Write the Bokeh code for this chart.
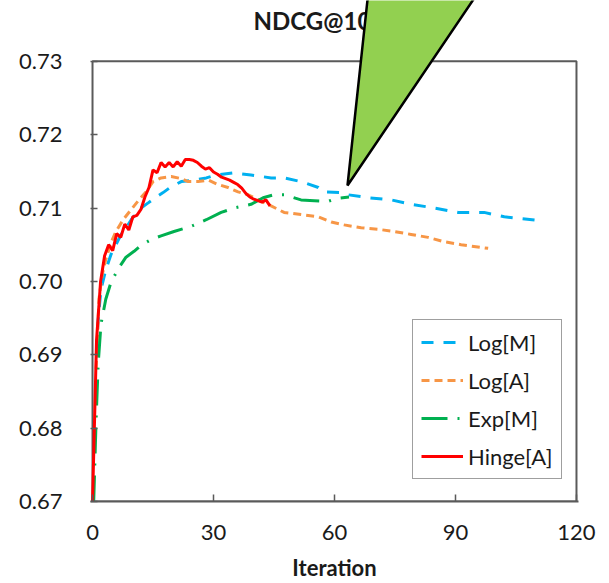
from bokeh.plotting import figure
from bokeh.models import (Range1d, FixedTicker, Legend, LegendItem, Label,
                          PolyAnnotation)
from bokeh.embed import file_html
from bokeh.resources import INLINE

# NDCG@10 per training iteration for the four loss variants
log_m_iter = [1, 1.4, 2.1, 3.3, 4.6, 5.8, 7.1, 8.3, 9.6, 11.5, 13.8, 15.8, 17.5,
              19.5, 22.0, 25.2, 28.2, 30.6, 34.9, 39.3, 44.3, 47.5, 51.7, 56.0,
              57.4, 61.7, 63.4, 68.4, 74.1, 79.1, 84.7, 90.7, 97.1, 102.1, 110.5]
log_m_val = [0.6905, 0.6948, 0.6989, 0.7016, 0.7037, 0.7050, 0.7064, 0.7073,
             0.7084, 0.7098, 0.7107, 0.7115, 0.7121, 0.7129, 0.7136, 0.7138,
             0.7141, 0.7145, 0.7148, 0.7145, 0.7141, 0.7141, 0.7136, 0.7128,
             0.7122, 0.7121, 0.7118, 0.7114, 0.7111, 0.7105, 0.7100, 0.7094,
             0.7094, 0.7088, 0.7083]

log_a_iter = [0.9, 1.6, 2.4, 3.3, 4.6, 5.8, 7.6, 9.6, 11.5, 13.3, 15.0, 17.0,
              19.5, 22.0, 23.7, 26.2, 28.7, 31.1, 33.6, 36.1, 38.6, 41.1, 43.5,
              47.5, 51.7, 56.0, 59.2, 62.4, 66.6, 70.8, 74.8, 79.0, 83.2, 87.2,
              91.4, 98.1]
log_a_val = [0.6881, 0.6976, 0.7009, 0.7030, 0.7053, 0.7068, 0.7084, 0.7098,
             0.7111, 0.7122, 0.7136, 0.7141, 0.7143, 0.7140, 0.7136, 0.7136,
             0.7138, 0.7132, 0.7128, 0.7122, 0.7118, 0.7111, 0.7105, 0.7094,
             0.7091, 0.7088, 0.7081, 0.7077, 0.7073, 0.7071, 0.7068, 0.7064,
             0.7060, 0.7054, 0.7050, 0.7045]

exp_m_iter = [0.3, 0.9, 1.4, 2.1, 3.3, 4.6, 6.6, 8.3, 10.3, 12.0, 14.5, 17.0,
              20.2, 24.4, 28.2, 31.9, 35.1, 39.3, 42.3, 45.0, 47.5, 51.7, 55.0,
              58.4, 60.4, 63.6]
exp_m_val = [0.6700, 0.6813, 0.6887, 0.6942, 0.6976, 0.6999, 0.7019, 0.7033,
             0.7041, 0.7049, 0.7057, 0.7062, 0.7068, 0.7075, 0.7084, 0.7094,
             0.7100, 0.7105, 0.7114, 0.7118, 0.7118, 0.7111, 0.7110, 0.7109,
             0.7113, 0.7115]

hinge_a_iter = list(range(0, 45))
hinge_a_val = [0.6700, 0.6920, 0.7000, 0.7035, 0.7050, 0.7042, 0.7065, 0.7060,
               0.7078, 0.7070, 0.7088, 0.7090, 0.7098, 0.7115, 0.7128, 0.7152,
               0.7148, 0.7162, 0.7156, 0.7162, 0.7156, 0.7163, 0.7157, 0.7166,
               0.7166, 0.7165, 0.7162, 0.7157, 0.7153, 0.7155, 0.7149, 0.7146,
               0.7142, 0.7140, 0.7138, 0.7135, 0.7132, 0.7127, 0.7120, 0.7115,
               0.7112, 0.7110, 0.7108, 0.7111, 0.7103]

x_ticks = [0, 30, 60, 90, 120]
y_ticks = [0.67, 0.68, 0.69, 0.70, 0.71, 0.72, 0.73]
y_tick_labels = ["0.67", "0.68", "0.69", "0.70", "0.71", "0.72", "0.73"]

FONT = "Lato"
FRAME = "#5a5a5a"
TEXT = "#1a1a1a"

# The drawing area reaches the top of the canvas so that the heading and the
# callout wedge can sit above the boxed axes region.
y_lo, y_hi = y_ticks[0], y_ticks[-1]
head_room = (y_hi - y_lo) * 61 / 442
p = figure(width=609, height=583, output_backend="svg", toolbar_location=None,
           x_range=Range1d(x_ticks[0] - 0.5, x_ticks[-1] + 0.5),
           y_range=Range1d(y_lo, y_hi + head_room),
           min_border_left=90, min_border_right=31, min_border_top=0,
           min_border_bottom=80)
p.background_fill_color = "white"
p.border_fill_color = "white"
p.outline_line_color = None
p.xgrid.visible = False
p.ygrid.visible = False

for ax in (p.xaxis[0], p.yaxis[0]):
    ax.major_tick_line_color = FRAME
    ax.major_tick_line_width = 1.5
    ax.major_tick_in = 7
    ax.major_tick_out = 0
    ax.minor_tick_line_color = None
    ax.major_label_text_font = FONT
    ax.major_label_text_font_size = "22px"
    ax.major_label_text_color = TEXT

p.xaxis.axis_line_color = FRAME
p.xaxis.axis_line_width = 2
p.yaxis.axis_line_color = None

p.xaxis.ticker = FixedTicker(ticks=x_ticks)
p.xaxis.major_label_standoff = 23
p.xaxis.axis_label = "Iteration"
p.xaxis.axis_label_text_font = FONT
p.xaxis.axis_label_text_font_style = "bold"
p.xaxis.axis_label_text_font_size = "22px"
p.xaxis.axis_label_text_color = TEXT
p.xaxis.axis_label_standoff = 11

p.yaxis.ticker = FixedTicker(ticks=y_ticks)
p.yaxis.major_label_overrides = {t: s for t, s in zip(y_ticks, y_tick_labels)}
p.yaxis.major_label_standoff = 28

# box around the value region
p.quad(left=x_ticks[0], right=x_ticks[-1], bottom=y_lo, top=y_hi,
       fill_color=None, line_color=FRAME, line_width=2)

r_log_m = p.line(log_m_iter, log_m_val, line_color="#00B0F0", line_width=3,
                 line_dash="12 10")
r_log_a = p.line(log_a_iter, log_a_val, line_color="#F79646", line_width=3,
                 line_dash="8 5")
r_exp_m = p.line(exp_m_iter, exp_m_val, line_color="#00B050", line_width=3,
                 line_dash="26 10 2 10")
r_hinge = p.line(hinge_a_iter, hinge_a_val, line_color="#FF0000", line_width=3)

legend = Legend(items=[LegendItem(label="Log[M]", renderers=[r_log_m]),
                       LegendItem(label="Log[A]", renderers=[r_log_a]),
                       LegendItem(label="Exp[M]", renderers=[r_exp_m]),
                       LegendItem(label="Hinge[A]", renderers=[r_hinge])],
                location=(322, 22))
legend.label_text_font = FONT
legend.label_text_font_size = "22px"
legend.label_text_color = TEXT
legend.glyph_width = 42
legend.glyph_height = 28
legend.label_height = 28
legend.label_standoff = 5
legend.spacing = 10
legend.padding = 8
legend.margin = 0
legend.border_line_color = "#404040"
legend.border_line_width = 1.5
legend.background_fill_alpha = 1
p.add_layout(legend, "center")

title = Label(x=312, y=20, x_units="canvas", y_units="canvas", text="NDCG@10",
              text_font=FONT, text_font_style="bold", text_font_size="24px",
              text_color=TEXT, text_align="center", text_baseline="middle")
p.add_layout(title)

callout = PolyAnnotation(xs=[368, 479, 347], ys=[-10, -10, 185],
                         xs_units="canvas", ys_units="canvas",
                         fill_color="#92D050", fill_alpha=1,
                         line_color="black", line_alpha=1, line_width=2.5,
                         level="overlay")
p.add_layout(callout)

open("out.html", "w").write(file_html(p, INLINE))
